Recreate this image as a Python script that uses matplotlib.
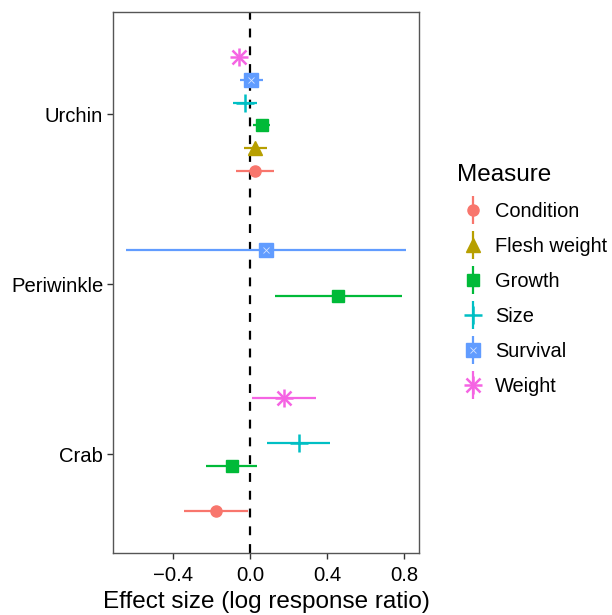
import matplotlib
matplotlib.use("Agg")
import matplotlib.pyplot as plt
from matplotlib.lines import Line2D
from matplotlib.legend_handler import HandlerTuple

plt.rcParams['font.family'] = ['Liberation Sans', 'DejaVu Sans']

species = ["Crab", "Periwinkle", "Urchin"]
measures = ["Condition", "Flesh weight", "Growth", "Size", "Survival", "Weight"]
colors = ["#F8766D", "#B79F00", "#00BA38", "#00BFC4", "#619CFF", "#F564E3"]

urchin_measures = ["Condition", "Flesh weight", "Growth", "Size", "Survival", "Weight"]
urchin_est = [0.026, 0.027, 0.062, -0.026, 0.004, -0.055]
urchin_lo = [-0.073, -0.031, 0.016, -0.09, -0.05, -0.07]
urchin_hi = [0.125, 0.088, 0.104, 0.037, 0.068, -0.04]

peri_measures = ["Growth", "Survival"]
peri_est = [0.457, 0.083]
peri_lo = [0.13, -0.644]
peri_hi = [0.79, 0.81]

crab_measures = ["Condition", "Growth", "Size", "Weight"]
crab_est = [-0.178, -0.095, 0.253, 0.175]
crab_lo = [-0.341, -0.23, 0.087, 0.009]
crab_hi = [-0.012, 0.038, 0.417, 0.341]

xticks = [-0.4, 0.0, 0.4, 0.8]
xticklabels = ["\u22120.4", "0.0", "0.4", "0.8"]

fig = plt.figure(figsize=(6.12, 6.15), dpi=100)
ax = fig.add_axes([0.1846, 0.1008, 0.5, 0.8797])

dodge = 0.8 / len(measures)


def marker_artists(m, c):
    if m == "Condition":
        return [dict(marker='o', ms=8, color=c, mec=c)]
    if m == "Flesh weight":
        return [dict(marker='^', ms=10, color=c, mec=c)]
    if m == "Growth":
        return [dict(marker='s', ms=8, color=c, mec=c)]
    if m == "Size":
        return [dict(marker='+', ms=13, mew=1.8, color=c)]
    if m == "Survival":
        return [dict(marker='s', ms=9.5, color=c, mec=c),
                dict(marker='x', ms=5, mew=0.6, color='#d5e4ff')]
    return [dict(marker='+', ms=13, mew=1.8, color=c),
            dict(marker='x', ms=9.5, mew=1.8, color=c)]


groups = [
    ("Urchin", urchin_measures, urchin_est, urchin_lo, urchin_hi),
    ("Periwinkle", peri_measures, peri_est, peri_lo, peri_hi),
    ("Crab", crab_measures, crab_est, crab_lo, crab_hi),
]

for sp, ms_, est, lo, hi in groups:
    base = species.index(sp) + 1
    for m, e, l, h in zip(ms_, est, lo, hi):
        i = measures.index(m)
        c = colors[i]
        y = base + (i - (len(measures) - 1) / 2) * dodge
        ax.plot([l, h], [y, y], color=c, lw=1.6, solid_capstyle='butt', zorder=3)
        for k, kw in enumerate(marker_artists(m, c)):
            ax.plot([e], [y], ls='none', zorder=4 + k, **kw)

ax.axvline(0, color='black', lw=1.6, ls=(0, (4, 4)), zorder=2)

ax.set_xlim(-0.712, 0.878)
ax.set_ylim(0.42, 3.6)
ax.set_yticks([1, 2, 3])
ax.set_yticklabels(species, fontsize=14.6, color='black')
ax.set_xticks(xticks)
ax.set_xticklabels(xticklabels, fontsize=14.6, color='black')
ax.tick_params(axis='y', length=4, width=1, color='#333333', pad=3)
ax.tick_params(axis='x', length=4, width=1, color='#333333', pad=5)
for s in ax.spines.values():
    s.set_color('#555555')
    s.set_linewidth(1)
ax.set_xlabel("Effect size (log response ratio)", fontsize=17.5, labelpad=5)

# legend
handles = []
for m, c in zip(measures, colors):
    vline = Line2D([], [], marker='|', ms=20, mew=1.6, color=c, ls='none')
    parts = [vline] + [Line2D([], [], ls='none', **kw) for kw in marker_artists(m, c)]
    handles.append(tuple(parts))

leg = fig.legend(handles, measures, handler_map={tuple: HandlerTuple(ndivide=1, pad=0)},
                 loc='upper left', bbox_to_anchor=(0.756, 0.6716), frameon=False,
                 fontsize=14.4, labelspacing=0.80, handlelength=1.0, handletextpad=0.6,
                 borderaxespad=0, borderpad=0)
fig.text(457 / 612, 1 - 175 / 615, "Measure", fontsize=17.5, va='center', ha='left')

fig.savefig("out.png", dpi=100)
